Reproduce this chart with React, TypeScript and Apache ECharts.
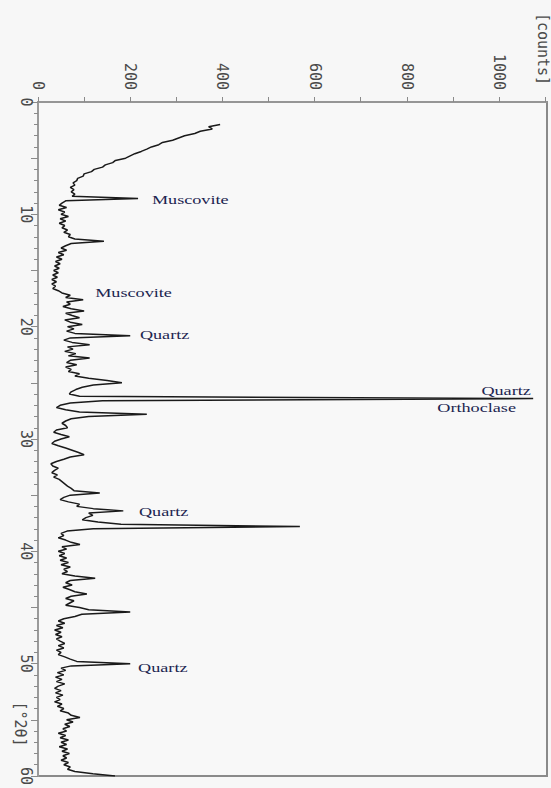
import React, { useEffect, useRef } from "react";
import * as echarts from "echarts";

// 2θ grid: starts at 2.0°, one value every 0.2°, up to 60.0°
const startAngle = 2;
const angleStep = 0.2;

// counts, one row per degree (x.0, x.2, x.4, x.6, x.8)
const counts: number[] = [
  395, 370, 378, 352, 340, // 2
  318, 305, 292, 270, 262, // 3
  246, 236, 224, 210, 200, // 4
  190, 168, 162, 146, 140, // 5
  122, 116, 100, 98, 86, // 6
  84, 76, 80, 70, 78, // 7
  72, 80, 74, 217, 60, // 8
  52, 46, 62, 44, 58, // 9
  50, 66, 48, 60, 46, // 10
  58, 52, 64, 56, 70, // 11
  66, 80, 143, 72, 60, // 12
  50, 62, 44, 56, 40, // 13
  52, 38, 48, 36, 46, // 14
  34, 44, 32, 42, 30, // 15
  40, 30, 38, 32, 44, // 16
  52, 70, 60, 98, 62, // 17
  70, 54, 72, 100, 60, // 18
  74, 90, 58, 70, 96, // 19
  64, 78, 62, 80, 200, // 20
  70, 56, 74, 112, 64, // 21
  76, 58, 82, 66, 112, // 22
  70, 62, 84, 60, 72, // 23
  66, 90, 80, 110, 150, // 24
  182, 120, 96, 82, 72, // 25
  68, 90, 1074, 140, 70, // 26
  48, 40, 60, 90, 236, // 27
  110, 72, 60, 52, 60, // 28
  64, 40, 34, 50, 68, // 29
  50, 36, 30, 44, 60, // 30
  74, 88, 100, 70, 56, // 31
  40, 28, 32, 44, 36, // 32
  30, 42, 34, 46, 52, // 33
  58, 64, 72, 78, 134, // 34
  70, 56, 48, 66, 90, // 35
  84, 120, 185, 110, 119, // 36
  104, 96, 130, 180, 568, // 37
  120, 63, 50, 56, 44, // 38
  60, 72, 91, 52, 62, // 39
  44, 58, 46, 62, 48, // 40
  66, 50, 70, 56, 64, // 41
  52, 80, 124, 70, 60, // 42
  74, 54, 68, 80, 106, // 43
  72, 60, 78, 69, 60, // 44
  90, 110, 200, 95, 80, // 45
  56, 44, 58, 40, 54, // 46
  36, 50, 38, 52, 40, // 47
  48, 58, 44, 56, 40, // 48
  50, 44, 58, 70, 84, // 49
  200, 72, 50, 60, 42, // 50
  56, 38, 52, 40, 58, // 51
  44, 36, 50, 38, 54, // 52
  40, 48, 36, 52, 42, // 53
  56, 48, 66, 72, 91, // 54
  62, 76, 58, 69, 54, // 55
  62, 44, 60, 48, 66, // 56
  50, 62, 46, 64, 52, // 57
  68, 54, 62, 50, 66, // 58
  56, 70, 64, 80, 119, // 59
  167, // 60
];

const countTickLabels = [0, 200, 400, 600, 800, 1000];
const angleTickLabels = [0, 10, 20, 30, 40, 50, 60];

// phase annotations (anchored in data coordinates)
const peakLabels = ["Muscovite", "Muscovite", "Quartz", "Quartz", "Orthoclase", "Quartz", "Quartz"];
const labelCounts = [247, 124, 221, 1069, 866, 219, 217];
const labelAngles = [8.65, 17.0, 20.7, 25.7, 27.2, 36.45, 50.3];
const labelRightAligned = [false, false, false, true, false, false, false];

const countAxisName = "[counts]";
const angleAxisName = "[°2θ]";

export default function App() {
  const ref = useRef<HTMLDivElement>(null);

  useEffect(() => {
    if (!ref.current) return;
    const chart = echarts.init(ref.current, undefined, { renderer: "svg" });
    const data = counts.map((c, i) => [c, +(startAngle + i * angleStep).toFixed(1)]);
    const axisFont = {
      fontFamily: "DejaVu Sans Mono",
      fontSize: 15,
      color: "#4a4a4a",
    };
    chart.setOption({
      animation: false,
      backgroundColor: "#f7f7f7",
      grid: {
        left: 38,
        top: 102,
        width: 509,
        height: 680,
        show: true,
        borderColor: "#8a8a8a",
        borderWidth: 2,
        backgroundColor: "#f8f8f8",
      },
      xAxis: {
        type: "value",
        position: "top",
        min: 0,
        max: 1104,
        interval: 100,
        axisLine: { show: true, lineStyle: { color: "#9a9a9a", width: 1.5 } },
        axisTick: { show: true, length: 5, lineStyle: { color: "#8a8a8a" } },
        axisLabel: {
          rotate: -90,
          margin: 12,
          showMaxLabel: false,
          formatter: (v: number) => (countTickLabels.includes(v) ? String(v) : ""),
          ...axisFont,
        },
        splitLine: { show: false },
      },
      yAxis: {
        type: "value",
        inverse: true,
        min: 0,
        max: 60,
        interval: 5,
        axisLine: { show: true, lineStyle: { color: "#9a9a9a", width: 2 } },
        axisTick: { show: true, length: 7, lineStyle: { color: "#8a8a8a" } },
        minorTick: { show: true, splitNumber: 5, length: 4, lineStyle: { color: "#8a8a8a" } },
        axisLabel: {
          rotate: -90,
          margin: 5,
          formatter: (v: number) => (angleTickLabels.includes(v) ? String(v) : ""),
          ...axisFont,
        },
        splitLine: { show: false },
      },
      series: [
        {
          type: "line",
          data,
          showSymbol: false,
          symbol: "none",
          lineStyle: { color: "#1a1a1a", width: 1.5 },
        },
      ],
    });

    const graphics: any[] = peakLabels.map((t, i) => {
      const [px, py] = chart.convertToPixel({ gridIndex: 0 }, [labelCounts[i], labelAngles[i]]) as number[];
      return {
        type: "text",
        x: px,
        y: py,
        scaleX: 1.4,
        style: {
          text: t,
          fill: "#1c2550",
          font: "13px 'Liberation Serif'",
          textAlign: labelRightAligned[i] ? "right" : "left",
          textVerticalAlign: "middle",
        },
      };
    });
    graphics.push({
      type: "text",
      x: 543,
      y: 49,
      rotation: -Math.PI / 2,
      style: {
        text: countAxisName,
        fill: "#4a4a4a",
        font: "15px 'DejaVu Sans Mono'",
        textAlign: "center",
        textVerticalAlign: "middle",
      },
    });
    graphics.push({
      type: "text",
      x: 20,
      y: 724,
      rotation: -Math.PI / 2,
      style: {
        text: angleAxisName,
        fill: "#4a4a4a",
        font: "15px 'DejaVu Sans Mono'",
        textAlign: "center",
        textVerticalAlign: "middle",
      },
    });
    chart.setOption({ graphic: graphics });

    return () => chart.dispose();
  }, []);

  return (
    <div
      ref={ref}
      style={{ position: "fixed", left: 0, top: 0, width: 551, height: 788 }}
    />
  );
}
